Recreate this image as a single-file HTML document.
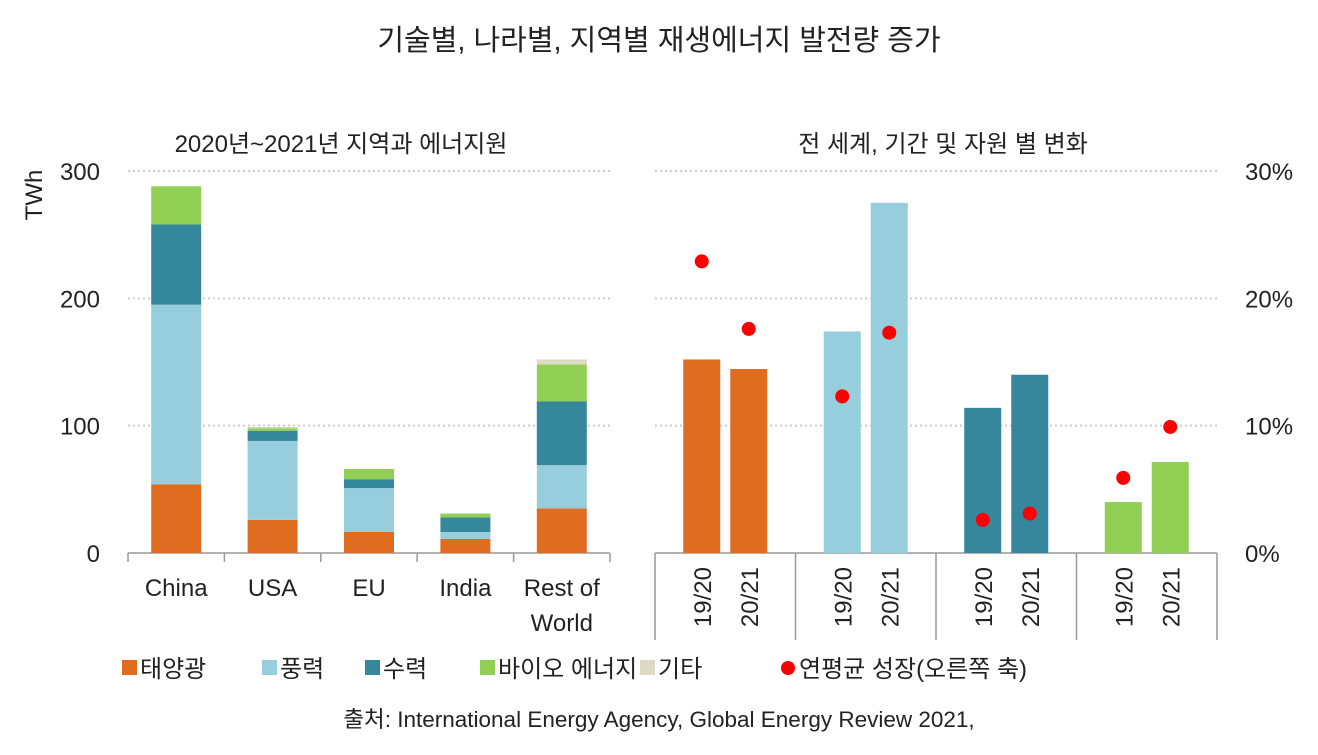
<!DOCTYPE html>
<html><head><meta charset="utf-8"><style>
body{margin:0;background:#fff;}
svg text{font-family:"Liberation Sans","Noto Sans CJK KR",sans-serif;fill:#222;}
</style></head><body>
<svg id="c" width="1318" height="750" xmlns="http://www.w3.org/2000/svg"></svg>
<script>
const regions=["China","USA","EU","India","Rest of|World"];
const solar=[54,26,16.5,11,35];
const wind=[141,62,34.5,5.5,34];
const hydro=[63,8,7,11.5,50];
const bio=[30,2,8,3,29];
const other=[0,1,0,0,4];
const leftTicks=[0,100,200,300];
const rightTicks=["0%","10%","20%","30%"];
const periods=["19/20","20/21"];
const sources=["solar","wind","hydro","bio"];
const globalVals=[[152,144.5],[174,275],[114,140],[40,71.5]];
const growth=[[22.9,17.6],[12.3,17.3],[2.6,3.1],[5.9,9.9]];
const colors={solar:"#e06c22",wind:"#97cedd",hydro:"#35879c",bio:"#92cf55",other:"#ddd9c4"};
const NS="http://www.w3.org/2000/svg";
const svg=document.getElementById('c');
function mk(t,a,p){const e=document.createElementNS(NS,t);for(const k in a)e.setAttribute(k,a[k]);(p||svg).appendChild(e);return e;}
const y0=553,yTop=171;
const y=v=>y0-(v/300)*(y0-yTop);
const yp=v=>y0-(v/30)*(y0-yTop);
let t;
t=mk('text',{x:659,y:50,'font-size':29,'text-anchor':'middle'});t.textContent="기술별, 나라별, 지역별 재생에너지 발전량 증가";

t=mk('text',{x:341,y:152,'font-size':24,'text-anchor':'middle'});t.textContent="2020년~2021년 지역과 에너지원";

t=mk('text',{x:943,y:152,'font-size':24,'text-anchor':'middle'});t.textContent="전 세계, 기간 및 자원 별 변화";

t=mk('text',{x:0,y:0,'font-size':24,'text-anchor':'middle',transform:'translate(42,195) rotate(-90)'});t.textContent="TWh";

leftTicks.forEach((v,i)=>{
 if(v>0){const g=mk('line',{x1:128,x2:610,y1:y(v),y2:y(v),stroke:'#ccc','stroke-width':2,'stroke-dasharray':'2 3'});
 
 const g2=mk('line',{x1:655,x2:1217,y1:y(v),y2:y(v),stroke:'#ccc','stroke-width':2,'stroke-dasharray':'2 3'});
 }
 const l=mk('text',{x:100,y:y(v)+9,'font-size':24,'text-anchor':'end'});l.textContent=v;
 
 const r=mk('text',{x:1245,y:y(v)+9,'font-size':24});r.textContent=rightTicks[i];
 
});
mk('line',{x1:128,x2:610,y1:y0,y2:y0,stroke:'#999','stroke-width':1.5});
mk('line',{x1:655,x2:1217,y1:y0,y2:y0,stroke:'#999','stroke-width':1.5});
const lw=(610-128)/regions.length;
for(let i=0;i<=regions.length;i++)mk('line',{x1:128+i*lw,x2:128+i*lw,y1:y0,y2:y0+9,stroke:'#999','stroke-width':1.5});
const gw=(1217-655)/sources.length;
for(let i=0;i<=sources.length;i++)mk('line',{x1:655+i*gw,x2:655+i*gw,y1:y0,y2:640,stroke:'#999','stroke-width':1.5});
regions.forEach((r,i)=>{
 const cx=128+lw*(i+0.5);let acc=0;
 [["solar",solar],["wind",wind],["hydro",hydro],["bio",bio],["other",other]].forEach(([k,arr])=>{
  const v=arr[i];if(v<=0)return;
  const b=mk('rect',{x:cx-25,y:y(acc+v),width:50,height:y(acc)-y(acc+v),fill:colors[k]});
  
  acc+=v;});
 r.split('|').forEach((s,j)=>{const tl=mk('text',{x:cx,y:596+j*35,'font-size':24,'text-anchor':'middle'});tl.textContent=s;
  });
});
sources.forEach((s,i)=>{
 periods.forEach((p,j)=>{
  const cx=655+gw*i+gw/2+(j===0?-23.5:23.5);
  const v=globalVals[i][j];
  const b=mk('rect',{x:cx-18.5,y:y(v),width:37,height:y0-y(v),fill:colors[s]});
  
  const d=mk('circle',{cx:cx,cy:yp(growth[i][j]),r:7,fill:'#ff0000'});
  
  const tl=mk('text',{x:0,y:0,'font-size':24,'text-anchor':'end',transform:`translate(${cx+9},567) rotate(-90)`});tl.textContent=p;
  
 });
});
const leg=[["태양광",colors.solar,122],["풍력",colors.wind,262],["수력",colors.hydro,365],["바이오 에너지",colors.bio,480],["기타",colors.other,640]];
leg.forEach(([n,c,x])=>{const g=mk('g',{});
 mk('rect',{x:x,y:660,width:15,height:15,fill:c},g);const tx=mk('text',{x:x+18,y:677,'font-size':24},g);tx.textContent=n;});
const lg=mk('g',{});
mk('circle',{cx:788,cy:668,r:7,fill:'#ff0000'},lg);
t=mk('text',{x:799,y:677,'font-size':24},lg);t.textContent="연평균 성장(오른쪽 축)";
t=mk('text',{x:659,y:727,'font-size':22.5,'text-anchor':'middle'});t.textContent="출처: International Energy Agency, Global Energy Review 2021,";

</script></body></html>
